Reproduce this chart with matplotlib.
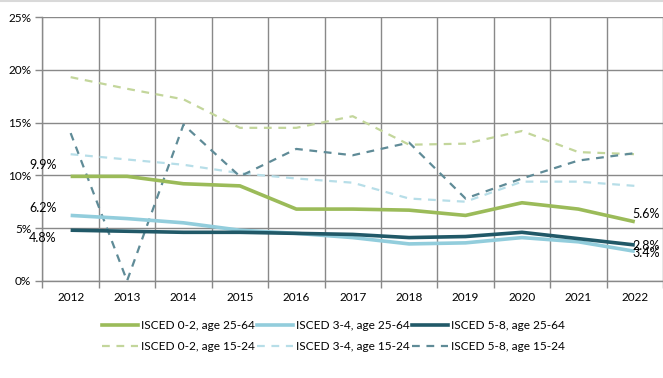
import matplotlib
matplotlib.use('Agg')
import matplotlib.pyplot as plt
from matplotlib.lines import Line2D
import numpy as np

years = ['2012', '2013', '2014', '2015', '2016', '2017', '2018', '2019', '2020', '2021', '2022']

# ages 25-64
isced02_old = [9.9, 9.9, 9.2, 9.0, 6.8, 6.8, 6.7, 6.2, 7.4, 6.8, 5.6]
isced34_old = [6.2, 5.9, 5.5, 4.8, 4.5, 4.1, 3.5, 3.6, 4.1, 3.7, 2.8]
isced58_old = [4.8, 4.7, 4.6, 4.6, 4.5, 4.4, 4.1, 4.2, 4.6, 4.0, 3.4]
# ages 15-24
isced02_young = [19.3, 18.2, 17.2, 14.5, 14.5, 15.6, 12.9, 13.0, 14.2, 12.2, 12.0]
isced34_young = [12.0, 11.5, 11.0, 10.2, 9.7, 9.3, 7.8, 7.5, 9.4, 9.4, 9.0]
isced58_young = [14.0, 0.0, 14.8, 9.9, 12.5, 11.9, 13.1, 7.8, 9.7, 11.4, 12.1]

labels = ['ISCED 0-2, age 25-64', 'ISCED 3-4, age 25-64', 'ISCED 5-8, age 25-64',
          'ISCED 0-2, age 15-24', 'ISCED 3-4, age 15-24', 'ISCED 5-8, age 15-24']

plt.rcParams['font.family'] = ['Lato', 'DejaVu Sans']
plt.rcParams['font.size'] = 8.5

fig = plt.figure(figsize=(6.63, 3.78), dpi=100)
ax = fig.add_axes([0.064, 0.257, 0.936, 0.698])

x = np.arange(len(years))
grid_c = '#898989'
dash = (0, (3.5, 3))

ax.plot(x, isced02_young, color='#C3D69B', lw=1.6, ls=dash)
ax.plot(x, isced34_young, color='#B7DEE8', lw=1.6, ls=dash)
ax.plot(x, isced58_young, color='#5F8B97', lw=1.6, ls=dash)
ax.plot(x, isced02_old, color='#9BBB59', lw=2.6, solid_capstyle='butt')
ax.plot(x, isced34_old, color='#92CDDC', lw=2.6, solid_capstyle='butt')
ax.plot(x, isced58_old, color='#215968', lw=2.6, solid_capstyle='butt')

# end labels
ax.annotate('%.1f%%' % isced02_old[0], (x[0], isced02_old[0]), xytext=(-10, 4),
            textcoords='offset points', ha='right', va='bottom', fontsize=9)
ax.annotate('%.1f%%' % isced34_old[0], (x[0], isced34_old[0]), xytext=(-10, 1),
            textcoords='offset points', ha='right', va='bottom', fontsize=9)
ax.annotate('%.1f%%' % isced58_old[0], (x[0], isced58_old[0]), xytext=(-10, -1),
            textcoords='offset points', ha='right', va='top', fontsize=9)
ax.annotate('%.1f%%' % isced02_old[-1], (x[-1], isced02_old[-1]), xytext=(-2, 1),
            textcoords='offset points', ha='left', va='bottom', fontsize=9)
ax.annotate('%.1f%%' % isced34_old[-1], (x[-1], isced34_old[-1]), xytext=(-2, 4),
            textcoords='offset points', ha='left', va='center', fontsize=9)
ax.annotate('%.1f%%' % isced58_old[-1], (x[-1], isced58_old[-1]), xytext=(-2, -6),
            textcoords='offset points', ha='left', va='center', fontsize=9)

ax.set_xlim(-0.5, len(years) - 0.5)
ax.set_ylim(0, 25)
ax.set_yticks([0, 5, 10, 15, 20, 25])
ax.set_yticklabels(['0%', '5%', '10%', '15%', '20%', '25%'])
ax.set_xticks(x)
ax.set_xticklabels(years)
ax.set_xticks(np.arange(-0.5, len(years), 1), minor=True)
ax.tick_params(axis='x', which='major', length=0, pad=8)
ax.tick_params(axis='x', which='minor', length=5, color=grid_c, width=1)
ax.tick_params(axis='y', length=5, color=grid_c, width=1, pad=3)

ax.grid(True, which='major', axis='y', color=grid_c, lw=1)
ax.grid(True, which='minor', axis='x', color=grid_c, lw=1)
ax.set_axisbelow(True)
for s in ['top', 'right']:
    ax.spines[s].set_visible(False)
for s in ['left', 'bottom']:
    ax.spines[s].set_color(grid_c)
    ax.spines[s].set_linewidth(1)

h = [
    Line2D([], [], color='#9BBB59', lw=2.6),
    Line2D([], [], color='#92CDDC', lw=2.6),
    Line2D([], [], color='#215968', lw=2.6),
    Line2D([], [], color='#C3D69B', lw=1.6, ls=dash),
    Line2D([], [], color='#B7DEE8', lw=1.6, ls=dash),
    Line2D([], [], color='#5F8B97', lw=1.6, ls=dash),
]
# legend fills column by column, so reorder to get rows
order = [0, 3, 1, 4, 2, 5]
fig.legend([h[i] for i in order], [labels[i] for i in order], ncol=3, loc='center',
           bbox_to_anchor=(0.503, 0.11), frameon=False, handlelength=3.0,
           handletextpad=0.3, columnspacing=0.15, labelspacing=0.85, fontsize=8.6)

fig.add_artist(Line2D([0, 1], [0.998, 0.998], color='#D9D9D9', lw=1.5,
                      transform=fig.transFigure))

fig.savefig('out.png', dpi=100)
